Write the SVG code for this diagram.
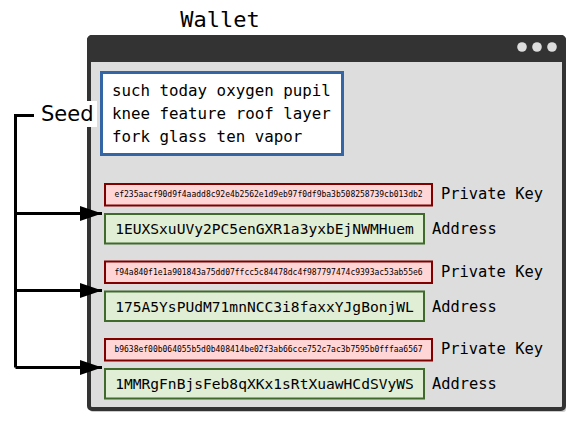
<svg xmlns="http://www.w3.org/2000/svg" width="578" height="423" viewBox="0 0 578 423">
<style>
.mono{font-family:"DejaVu Sans Mono","Liberation Mono",monospace;fill:#000}
.pk{fill:#ffd5d5;stroke:#800000;stroke-width:2}
.ad{fill:#e0eed6;stroke:#3f6a2b;stroke-width:2}
.conn{fill:none;stroke:#000;stroke-width:3}
</style>
<defs>
<marker id="arr" markerWidth="22" markerHeight="15" refX="22" refY="7.5" orient="auto" markerUnits="userSpaceOnUse" viewBox="0 0 22 15">
<path d="M0,0 L22,7.5 L0,15 Z" fill="#000"/>
</marker>
</defs>
<text class="mono" x="220" y="27" font-size="22" text-anchor="middle">Wallet</text>
<g id="window">
<rect x="90" y="38" width="476" height="374" rx="3" fill="#999" opacity="0.5"/>
<rect x="89" y="37" width="475" height="372" rx="3" fill="#ddd" stroke="#333" stroke-width="4"/>
<path d="M89,60 V40 a3,3 0 0 1 3,-3 H561 a3,3 0 0 1 3,3 V60 Z" fill="#333" stroke="#333" stroke-width="4"/>
<circle cx="522" cy="47" r="4.8" fill="#ddd"/>
<circle cx="537" cy="47" r="4.8" fill="#ddd"/>
<circle cx="552" cy="47" r="4.8" fill="#ddd"/>
</g>
<g id="seedwords">
<rect x="101.5" y="72.5" width="241" height="82" fill="#fff" stroke="#3465a4" stroke-width="3"/>
<text class="mono" x="112" y="96" font-size="15.8">such today oxygen pupil</text>
<text class="mono" x="112" y="119" font-size="15.8">knee feature roof layer</text>
<text class="mono" x="112" y="142" font-size="15.8">fork glass ten vapor</text>
</g>
<g id="seed">
<rect x="37" y="101" width="60" height="26" fill="#fff"/>
<text x="41" y="121" font-family="DejaVu Sans,Liberation Sans,sans-serif" font-size="21">Seed</text>
</g>
<g id="connectors">
<path class="conn" d="M34,115.5 H15.5 V367.5"/>
<path class="conn" d="M15.5,213.5 H102" marker-end="url(#arr)"/>
<path class="conn" d="M15.5,290.5 H102" marker-end="url(#arr)"/>
<path class="conn" d="M15.5,367.5 H102" marker-end="url(#arr)"/>
</g>
<g id="pk1">
<rect class="pk" x="105" y="184" width="327" height="21.5"/>
<text class="mono" x="268.5" y="197" font-size="8" text-anchor="middle">ef235aacf90d9f4aadd8c92e4b2562e1d9eb97f0df9ba3b508258739cb013db2</text>
<text class="mono" x="441" y="199" font-size="15.4">Private Key</text>
</g>
<g id="ad1">
<rect class="ad" x="105" y="214" width="319" height="29.5"/>
<text class="mono" x="264.5" y="234" font-size="14.6" text-anchor="middle">1EUXSxuUVy2PC5enGXR1a3yxbEjNWMHuem</text>
<text class="mono" x="432" y="234" font-size="15.4">Address</text>
</g>
<g id="pk2">
<rect class="pk" x="105" y="261.5" width="327" height="21.5"/>
<text class="mono" x="268.5" y="274.5" font-size="8" text-anchor="middle">f94a840f1e1a901843a75dd07ffcc5c84478dc4f987797474c9393ac53ab55e6</text>
<text class="mono" x="441" y="276.5" font-size="15.4">Private Key</text>
</g>
<g id="ad2">
<rect class="ad" x="105" y="291.5" width="319" height="29.5"/>
<text class="mono" x="264.5" y="311.5" font-size="14.6" text-anchor="middle">175A5YsPUdM71mnNCC3i8faxxYJgBonjWL</text>
<text class="mono" x="432" y="311.5" font-size="15.4">Address</text>
</g>
<g id="pk3">
<rect class="pk" x="105" y="339" width="327" height="21.5"/>
<text class="mono" x="268.5" y="352" font-size="8" text-anchor="middle">b9638ef00b064055b5d0b408414be02f3ab66cce752c7ac3b7595b0fffaa6567</text>
<text class="mono" x="441" y="354" font-size="15.4">Private Key</text>
</g>
<g id="ad3">
<rect class="ad" x="105" y="369" width="319" height="29.5"/>
<text class="mono" x="264.5" y="389" font-size="14.6" text-anchor="middle">1MMRgFnBjsFeb8qXKx1sRtXuawHCdSVyWS</text>
<text class="mono" x="432" y="389" font-size="15.4">Address</text>
</g>
</svg>
